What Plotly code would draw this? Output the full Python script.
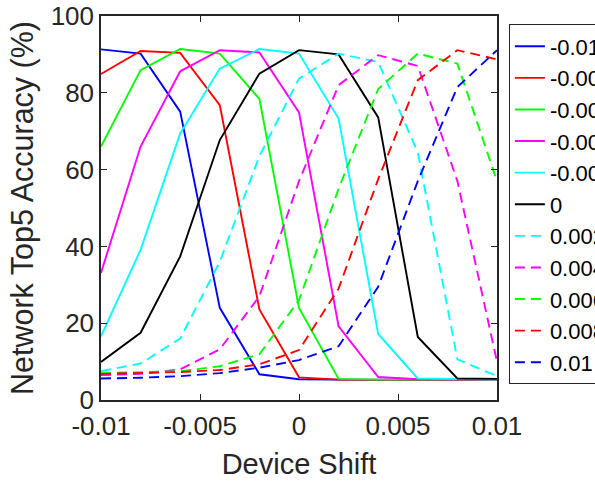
import plotly.graph_objects as go

device_shift = [-0.01, -0.008, -0.006, -0.004, -0.002, 0, 0.002, 0.004, 0.006, 0.008, 0.01]

series_names = ["-0.01", "-0.008", "-0.006", "-0.004", "-0.002", "0",
                "0.002", "0.004", "0.006", "0.008", "0.01"]

acc_m010 = [91.3, 90.2, 75.1, 24.0, 6.7, 5.4, 5.3, 5.3, 5.2, 5.2, 5.2]
acc_m008 = [84.9, 90.9, 90.4, 76.8, 23.6, 5.9, 5.3, 5.3, 5.2, 5.2, 5.2]
acc_m006 = [66.0, 85.9, 91.4, 90.2, 78.4, 24.0, 5.5, 5.3, 5.3, 5.3, 5.3]
acc_m004 = [33.1, 66.0, 85.6, 91.1, 90.5, 74.9, 19.2, 6.0, 5.4, 5.3, 5.3]
acc_m002 = [16.6, 39.1, 69.4, 86.3, 91.4, 90.2, 73.3, 17.2, 5.6, 5.4, 5.3]
acc_0 = [9.9, 17.5, 37.4, 67.7, 85.0, 91.1, 90.0, 73.6, 16.4, 5.6, 5.5]
acc_p002 = [7.5, 9.5, 16.0, 36.0, 63.5, 83.7, 90.2, 88.0, 64.5, 10.6, 6.2]
acc_p004 = [6.5, 6.8, 8.0, 13.2, 27.0, 57.0, 82.0, 89.8, 87.0, 57.0, 10.0]
acc_p006 = [7.0, 7.2, 7.5, 8.8, 11.9, 26.0, 55.0, 81.0, 90.2, 87.6, 57.0]
acc_p008 = [6.8, 7.0, 7.3, 7.8, 9.3, 13.0, 29.0, 57.5, 83.3, 91.1, 88.7]
acc_p010 = [5.6, 5.8, 6.2, 7.0, 8.4, 10.4, 14.0, 29.5, 57.0, 81.5, 91.1]

all_series = [acc_m010, acc_m008, acc_m006, acc_m004, acc_m002, acc_0,
              acc_p002, acc_p004, acc_p006, acc_p008, acc_p010]

colors = ["#0000FF", "#FF0000", "#00FF00", "#FF00FF", "#00FFFF", "#000000",
          "#00FFFF", "#FF00FF", "#00FF00", "#FF0000", "#0000FF"]
dashes = ["solid"] * 6 + ["10px,6px"] * 5

x_ticks = [-0.01, -0.005, 0, 0.005, 0.01]
x_tick_labels = ["-0.01", "-0.005", "0", "0.005", "0.01"]
y_ticks = [0, 20, 40, 60, 80, 100]

fig = go.Figure()
for name, vals, c, d in zip(series_names, all_series, colors, dashes):
    fig.add_trace(go.Scatter(x=device_shift, y=vals, mode="lines", name=name,
                             line=dict(color=c, width=1.9, dash=d)))

axis_common = dict(showline=True, mirror="ticks", linecolor="#262626", linewidth=1.5,
                   ticks="inside", ticklen=6, tickwidth=1.2, tickcolor="#262626",
                   showgrid=False, zeroline=False,
                   tickfont=dict(family="Liberation Sans, Arial", size=26, color="#262626"))

fig.update_layout(
    width=595, height=481,
    margin=dict(l=101, r=98, t=16, b=81, autoexpand=False),
    paper_bgcolor="white", plot_bgcolor="white",
    font=dict(family="Liberation Sans, Arial", color="#262626"),
    xaxis=dict(range=[-0.01, 0.01], tickvals=x_ticks, ticktext=x_tick_labels,
               ticklabelstandoff=2,
               title=dict(text="Device Shift", font=dict(size=29, color="#262626"), standoff=14),
               **axis_common),
    yaxis=dict(range=[0, 100], tickvals=y_ticks,
               title=dict(text="Network Top5 Accuracy (%)", font=dict(size=30.5, color="#262626"), standoff=8),
               **axis_common),
    legend=dict(x=1.03, y=0.978, xanchor="left", yanchor="top",
                bordercolor="#262626", borderwidth=1, bgcolor="white",
                font=dict(size=22, color="#000000"), itemwidth=30,
                tracegroupgap=0),
    showlegend=True,
)

fig.write_html("out.html", config={"displayModeBar": False},
               post_script="document.body.style.margin='0';")
